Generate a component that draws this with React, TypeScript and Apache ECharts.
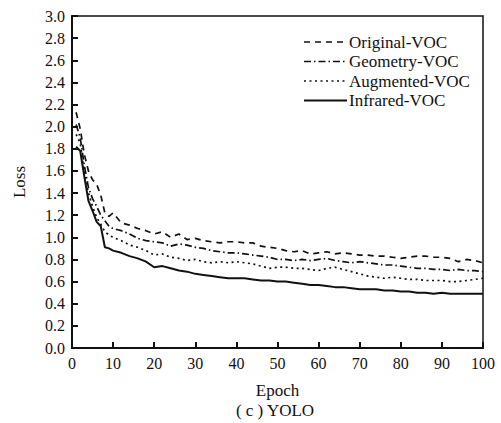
import React, { useEffect, useRef } from "react";
import * as echarts from "echarts";

const epochs = [1, 2, 3, 4, 5, 6, 7, 8, 9, 10, 12, 14, 16, 18, 20, 22, 24, 26, 28, 30, 32, 34, 36, 38, 40, 42, 44, 46, 48, 50, 52, 54, 56, 58, 60, 62, 64, 66, 68, 70, 72, 74, 76, 78, 80, 82, 84, 86, 88, 90, 92, 94, 96, 98, 100];

const originalVOC = [2.13, 1.98, 1.75, 1.6, 1.52, 1.48, 1.38, 1.22, 1.19, 1.22, 1.13, 1.11, 1.08, 1.06, 1.03, 1.05, 1.0, 1.03, 0.98, 0.99, 0.97, 0.96, 0.95, 0.96, 0.96, 0.95, 0.95, 0.92, 0.91, 0.9, 0.88, 0.87, 0.88, 0.85, 0.86, 0.87, 0.85, 0.86, 0.85, 0.84, 0.84, 0.83, 0.83, 0.82, 0.81, 0.82, 0.83, 0.83, 0.82, 0.82, 0.81, 0.78, 0.8, 0.79, 0.77];

const geometryVOC = [2.02, 1.9, 1.65, 1.45, 1.35, 1.28, 1.2, 1.15, 1.1, 1.08, 1.06, 1.03, 0.99, 0.97, 0.96, 0.95, 0.92, 0.94, 0.93, 0.91, 0.9, 0.88, 0.87, 0.86, 0.86, 0.85, 0.84, 0.83, 0.82, 0.8, 0.8, 0.79, 0.8, 0.79, 0.8, 0.81, 0.79, 0.78, 0.77, 0.78, 0.77, 0.76, 0.75, 0.75, 0.74, 0.73, 0.72, 0.72, 0.71, 0.71, 0.7, 0.71, 0.7, 0.7, 0.69];

const augmentedVOC = [1.93, 1.85, 1.58, 1.4, 1.28, 1.18, 1.12, 1.05, 1.02, 1.0, 0.97, 0.93, 0.91, 0.88, 0.84, 0.85, 0.82, 0.81, 0.79, 0.8, 0.78, 0.77, 0.78, 0.77, 0.78, 0.77, 0.76, 0.74, 0.72, 0.73, 0.73, 0.72, 0.72, 0.71, 0.7, 0.72, 0.73, 0.71, 0.69, 0.67, 0.65, 0.64, 0.63, 0.64, 0.63, 0.62, 0.62, 0.61, 0.61, 0.61, 0.6, 0.6, 0.61, 0.62, 0.63];

const infraredVOC = [1.82, 1.78, 1.55, 1.33, 1.24, 1.14, 1.1, 0.91, 0.9, 0.88, 0.86, 0.83, 0.81, 0.78, 0.73, 0.74, 0.72, 0.7, 0.69, 0.67, 0.66, 0.65, 0.64, 0.63, 0.63, 0.63, 0.62, 0.61, 0.61, 0.6, 0.6, 0.59, 0.58, 0.57, 0.57, 0.56, 0.55, 0.55, 0.54, 0.53, 0.53, 0.53, 0.52, 0.52, 0.51, 0.51, 0.5, 0.5, 0.49, 0.5, 0.49, 0.49, 0.49, 0.49, 0.49];

const seriesNames = ["Original-VOC", "Geometry-VOC", "Augmented-VOC", "Infrared-VOC"];
const seriesValues = [originalVOC, geometryVOC, augmentedVOC, infraredVOC];
const dashPatterns: (number[] | "solid")[] = [[6, 5], [7, 3, 1.5, 3], [2, 3.5], "solid"];
const lineWidths = [1.7, 1.7, 1.7, 2];

const INK = "#111";
const FONT = "Liberation Serif";

export default function App() {
  const ref = useRef<HTMLDivElement>(null);
  useEffect(() => {
    if (!ref.current) return;
    const chart = echarts.init(ref.current, undefined, { renderer: "svg" });
    const legendGraphics: any[] = [];
    seriesNames.forEach((name, i) => {
      const y = 42 + i * 19.5;
      const dash = dashPatterns[i];
      legendGraphics.push({
        type: "line",
        shape: { x1: 304, y1: y, x2: 347, y2: y },
        style: {
          stroke: INK,
          lineWidth: lineWidths[i],
          lineDash: dash === "solid" ? null : dash,
        },
        silent: true,
      });
      legendGraphics.push({
        type: "text",
        x: 349,
        y: y,
        style: {
          text: name,
          font: `17px "${FONT}"`,
          fill: INK,
          verticalAlign: "middle",
          align: "left",
        },
        silent: true,
      });
    });
    chart.setOption({
      animation: false,
      backgroundColor: "#fff",
      grid: {
        left: 72,
        right: 18,
        top: 16,
        bottom: 75,
        show: true,
        borderColor: INK,
        borderWidth: 1.5,
        backgroundColor: "transparent",
      },
      xAxis: {
        type: "value",
        min: 0,
        max: 100,
        interval: 10,
        name: "Epoch",
        nameLocation: "middle",
        nameGap: 34,
        nameTextStyle: { fontFamily: FONT, fontSize: 17, color: INK },
        axisLine: { lineStyle: { color: INK, width: 2 } },
        axisTick: { inside: true, length: 6, lineStyle: { color: INK, width: 2 } },
        axisLabel: { fontFamily: FONT, fontSize: 16, color: INK, margin: 7 },
        splitLine: { show: false },
      },
      yAxis: {
        type: "value",
        min: 0,
        max: 3,
        interval: 0.2,
        name: "Loss",
        nameLocation: "middle",
        nameGap: 44,
        nameRotate: 90,
        nameTextStyle: { fontFamily: FONT, fontSize: 17, color: INK },
        axisLine: { lineStyle: { color: INK, width: 2 } },
        axisTick: { inside: true, length: 6, lineStyle: { color: INK, width: 2 } },
        axisLabel: {
          fontFamily: FONT,
          fontSize: 16,
          color: INK,
          margin: 7,
          formatter: (v: number) => v.toFixed(1),
        },
        splitLine: { show: false },
      },
      series: seriesNames.map((name, i) => ({
        name,
        type: "line",
        showSymbol: false,
        symbol: "none",
        data: epochs.map((e, j) => [e, seriesValues[i][j]]),
        lineStyle: { color: INK, width: lineWidths[i], type: dashPatterns[i] },
        z: 3,
      })),
      graphic: [
        ...legendGraphics,
        {
          type: "text",
          x: 275,
          y: 410,
          style: {
            text: "( c ) YOLO",
            font: `17px "${FONT}"`,
            fill: INK,
            align: "center",
            verticalAlign: "middle",
          },
          silent: true,
        },
      ],
    });
    return () => chart.dispose();
  }, []);
  return <div ref={ref} style={{ width: 501, height: 423, position: "absolute", left: 0, top: 0 }} />;
}
